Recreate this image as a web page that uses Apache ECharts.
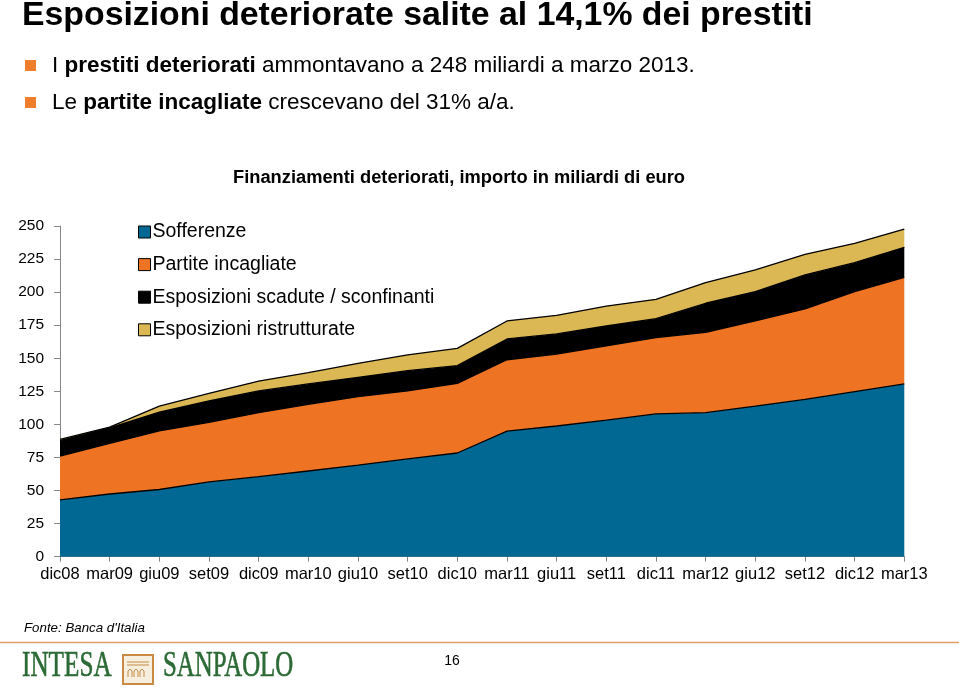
<!DOCTYPE html>
<html>
<head>
<meta charset="utf-8">
<script src="https://cdn.jsdelivr.net/npm/echarts@6/dist/echarts.min.js"></script>
<style>
html,body{margin:0;padding:0;background:#fff;}
#chart{width:959px;height:691px;}
</style>
</head>
<body>
<div id="chart"></div>
<script>
const categories = ['dic08','mar09','giu09','set09','dic09','mar10','giu10','set10','dic10','mar11','giu11','set11','dic11','mar12','giu12','set12','dic12','mar13'];
const sofferenze = [42.9, 47.4, 50.8, 56.5, 60.5, 64.8, 69.3, 73.9, 78.4, 95.0, 98.8, 103.3, 107.9, 108.9, 113.9, 119.0, 124.8, 130.6];
const partiteIncagliate = [33.2, 38.2, 44.3, 45.1, 48.4, 50.4, 51.7, 51.4, 52.6, 53.9, 54.4, 56.0, 57.7, 60.7, 64.3, 68.3, 75.6, 80.6];
const esposizioniScadute = [11.6, 11.8, 14.2, 16.1, 16.4, 15.4, 14.6, 15.3, 13.4, 15.7, 15.2, 15.1, 14.3, 22.0, 22.2, 25.7, 21.9, 22.7];
const esposizioniRistrutturate = [1.0, 0.6, 4.5, 5.7, 7.5, 8.5, 10.6, 11.9, 13.1, 13.6, 14.1, 15.1, 14.7, 15.6, 16.4, 15.6, 14.6, 13.8];
const seriesNames = ['Sofferenze','Partite incagliate','Esposizioni scadute / sconfinanti','Esposizioni ristrutturate'];
const seriesColors = ['#006892','#ee7424','#000000','#dcb854'];

const font = '"Liberation Sans", Arial, Helvetica, sans-serif';
const chart = echarts.init(document.getElementById('chart'), null, {renderer:'canvas'});

function mk(name, data, color){
  return {
    name: name, type: 'line', stack: 'tot', data: data,
    symbol: 'none', smooth: false,
    itemStyle: {color: color},
    lineStyle: {color: '#000', width: 1.3},
    areaStyle: {color: color, opacity: 1},
    emphasis: {disabled: true}
  };
}

const option = {
  animation: false,
  backgroundColor: '#fff',
  grid: {left: 60, right: 54.7, top: 226, bottom: 134.3, containLabel: false},
  legend: {
    orient: 'vertical', left: 133, top: 217,
    itemWidth: 12, itemHeight: 12, itemGap: 12.6,
    icon: 'rect',
    itemStyle: {borderColor: '#000', borderWidth: 1},
    textStyle: {fontFamily: font, fontSize: 19.5, color: '#000', padding: [0,0,0,-3]},
    data: seriesNames
  },
  xAxis: {
    type: 'category', data: categories, boundaryGap: false,
    axisLine: {lineStyle: {color: '#888', width: 1}},
    axisTick: {show: true, alignWithLabel: true, length: 5, lineStyle: {color: '#888'}},
    axisLabel: {fontFamily: font, fontSize: 16.5, color: '#000', margin: 9, interval: 0},
    splitLine: {show: false}
  },
  yAxis: {
    type: 'value', min: 0, max: 250, interval: 25,
    axisLine: {show: true, lineStyle: {color: '#888', width: 1}},
    axisTick: {show: true, length: 6, lineStyle: {color: '#888'}},
    axisLabel: {fontFamily: font, fontSize: 15.5, color: '#000', margin: 16},
    splitLine: {show: false}
  },
  series: [
    mk(seriesNames[0], sofferenze, seriesColors[0]),
    mk(seriesNames[1], partiteIncagliate, seriesColors[1]),
    mk(seriesNames[2], esposizioniScadute, seriesColors[2]),
    mk(seriesNames[3], esposizioniRistrutturate, seriesColors[3])
  ],
  graphic: [
    {type:'text', x: 22, y: 16, style:{text:'Esposizioni deteriorate salite al 14,1% dei prestiti', fontFamily: font, fontWeight:'bold', fontSize: 33.8, fill:'#000', verticalAlign:'middle'}},
    {type:'rect', shape:{x:25, y:60, width:11, height:11}, style:{fill:'#ee7d2c'}},
    {type:'rect', shape:{x:25, y:97, width:11, height:11}, style:{fill:'#ee7d2c'}},
    {type:'text', x: 52, y: 66, style:{
      text:'I {b|prestiti deteriorati} ammontavano a 248 miliardi a marzo 2013.',
      fontFamily: font, fontSize: 22.5, fill:'#000', verticalAlign:'middle',
      rich:{b:{fontFamily: font, fontSize: 22.5, fontWeight:'bold', fill:'#000'}}
    }},
    {type:'text', x: 52, y: 103, style:{
      text:'Le {b|partite incagliate} crescevano del 31% a/a.',
      fontFamily: font, fontSize: 22.5, fill:'#000', verticalAlign:'middle',
      rich:{b:{fontFamily: font, fontSize: 22.5, fontWeight:'bold', fill:'#000'}}
    }},
    {type:'text', x: 459, y: 178, style:{text:'Finanziamenti deteriorati, importo in miliardi di euro', fontFamily: font, fontWeight:'bold', fontSize: 18.3, fill:'#000', align:'center', verticalAlign:'middle'}},
    {type:'text', x: 24, y: 628, style:{text:"Fonte: Banca d'Italia", fontFamily: font, fontStyle:'italic', fontSize: 13.3, fill:'#000', verticalAlign:'middle'}},
    {type:'line', shape:{x1:0, y1:642.5, x2:959, y2:642.5}, style:{stroke:'#d9a066', lineWidth:1.5}},
    {type:'text', x: 452, y: 661, style:{text:'16', fontFamily: font, fontSize: 14, fill:'#000', align:'center', verticalAlign:'middle'}},
    {type:'text', x: 22, y: 685, scaleX: 0.7, originX: 0, originY: 0, style:{text:'INTESA', fontFamily:'"Liberation Serif", "Times New Roman", serif', fontSize: 36, fill:'#2c6a35', verticalAlign:'bottom', stroke:'#2c6a35', lineWidth:0.6}},
    {type:'text', x: 163, y: 685, scaleX: 0.69, originX: 0, originY: 0, style:{text:'SANPAOLO', fontFamily:'"Liberation Serif", "Times New Roman", serif', fontSize: 36, fill:'#2c6a35', verticalAlign:'bottom', stroke:'#2c6a35', lineWidth:0.6}},
    {type:'rect', shape:{x:123, y:655, width:30, height:29}, style:{fill:'#f6efdf', stroke:'#c98a45', lineWidth:2}},
    {type:'line', shape:{x1:127, y1:662, x2:149, y2:662}, style:{stroke:'#c98a45', lineWidth:1}},
    {type:'line', shape:{x1:127, y1:665, x2:149, y2:665}, style:{stroke:'#c98a45', lineWidth:1}},
    {type:'polyline', shape:{points:[[128,677],[128,671],[130,669],[132,671],[132,677]]}, style:{stroke:'#c98a45', lineWidth:1, fill:null}},
    {type:'polyline', shape:{points:[[134,677],[134,671],[136,669],[138,671],[138,677]]}, style:{stroke:'#c98a45', lineWidth:1, fill:null}},
    {type:'polyline', shape:{points:[[140,677],[140,671],[142,669],[144,671],[144,677]]}, style:{stroke:'#c98a45', lineWidth:1, fill:null}}
  ]
};
chart.setOption(option);
</script>
</body>
</html>
